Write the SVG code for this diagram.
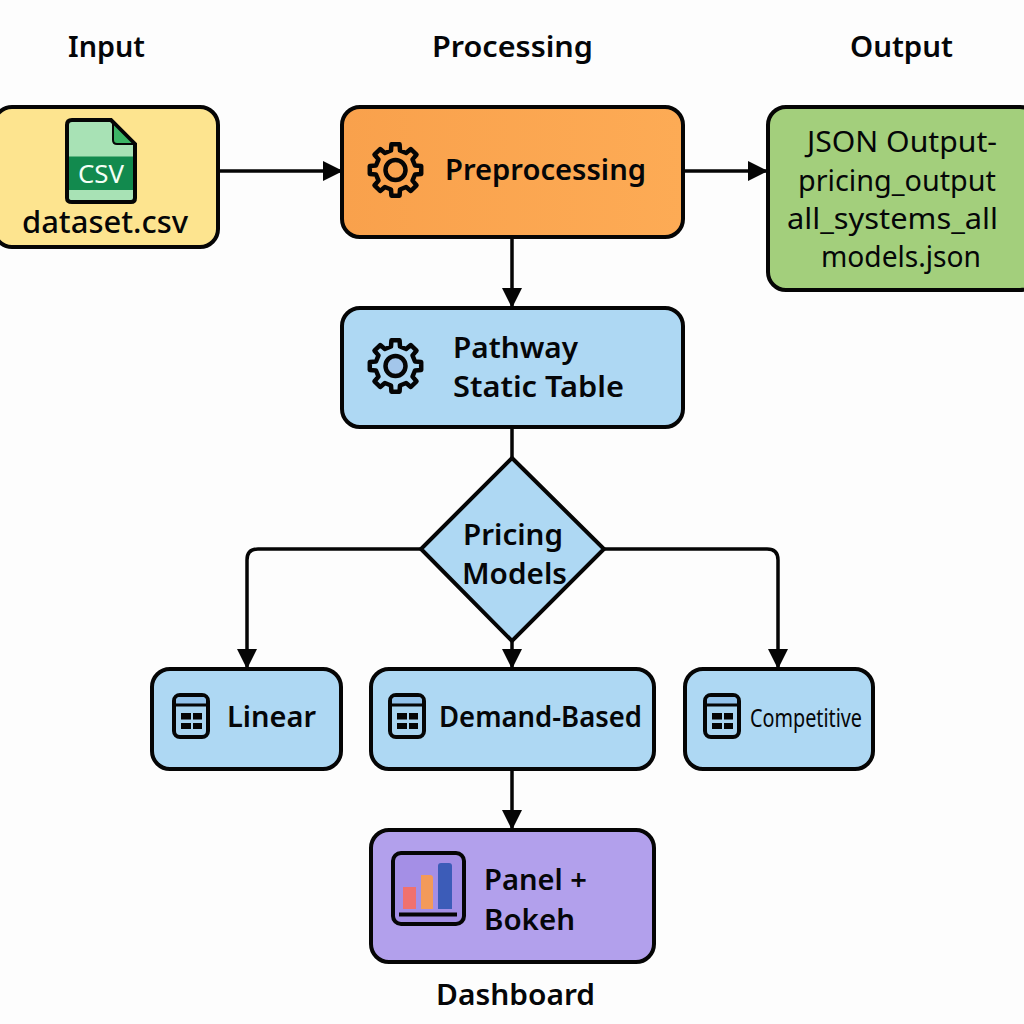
<svg xmlns="http://www.w3.org/2000/svg" width="1024" height="1024" viewBox="0 0 1024 1024">
<style>
text{font-family:"Noto Sans","DejaVu Sans",sans-serif;font-weight:600;fill:#050608;font-size:29px}
.box{stroke:#050505;stroke-width:4}
.blue{fill:#aed8f3}
.line{fill:none;stroke:#050505;stroke-width:3.5;stroke-linejoin:round}
.ico{fill:none;stroke:#050505;stroke-width:4.5;stroke-linejoin:round}
.reg{font-weight:400}
</style>
<defs>
<marker id="arr" markerUnits="userSpaceOnUse" markerWidth="20" markerHeight="20" refX="19" refY="10" orient="auto"><path d="M0 0L20 10L0 20Z" fill="#050505"/></marker>
<linearGradient id="orange" x1="0" y1="0" x2="1" y2="0"><stop offset="0" stop-color="#f9a14c"/><stop offset="1" stop-color="#fdab55"/></linearGradient>
<g id="gear"><polygon class="ico" points="-4.5,-19.5 -4.07,-25.7 4.07,-25.7 4.5,-19.5 10.6,-17 15.3,-21 21,-15.3 17,-10.6 19.5,-4.5 25.7,-4.07 25.7,4.07 19.5,4.5 17,10.6 21,15.3 15.3,21 10.6,17 4.5,19.5 4.07,25.7 -4.07,25.7 -4.5,19.5 -10.6,17 -15.3,21 -21,15.3 -17,10.6 -19.5,4.5 -25.7,4.07 -25.7,-4.07 -19.5,-4.5 -17,-10.6 -21,-15.3 -15.3,-21 -10.6,-17"/><circle class="ico" r="10"/></g>
<g id="table"><rect x="-17" y="-21" width="34" height="42" rx="6" fill="#a9d4f0" stroke="#050505" stroke-width="4"/><path d="M-15 -11V-15Q-15 -19 -11 -19H11Q15 -19 15 -15V-11Z" fill="#93c2ea"/><path d="M-17 -11H17" stroke="#050505" stroke-width="3"/><path d="M-10 -3H0V3.500H-10ZM2 -3H11V3.500H2ZM-10 7H0V13H-10ZM2 7H11V13H2Z" fill="#050505"/></g>
</defs>
<rect width="1024" height="1024" fill="#fdfdfd"/>
<g id="connectors">
<path class="line" marker-end="url(#arr)" d="M218 171H342"/>
<path class="line" marker-end="url(#arr)" d="M683 171H767"/>
<path class="line" marker-end="url(#arr)" d="M512 237V307"/>
<path class="line" d="M512 427V458"/>
<path class="line" marker-end="url(#arr)" d="M421 549H258Q247 549 247 560V668"/>
<path class="line" marker-end="url(#arr)" d="M604 549H767Q778 549 778 560V668"/>
<path class="line" marker-end="url(#arr)" d="M512 641V668"/>
<path class="line" marker-end="url(#arr)" d="M512 769V829"/>
</g>
<g id="header-input"><text x="68" y="57" textLength="77" lengthAdjust="spacingAndGlyphs">Input</text></g>
<g id="header-processing"><text x="432" y="57" textLength="161" lengthAdjust="spacingAndGlyphs">Processing</text></g>
<g id="header-output"><text x="850" y="57" textLength="103" lengthAdjust="spacingAndGlyphs">Output</text></g>
<g id="dataset">
<rect class="box" x="-6" y="107" width="224" height="140" rx="18" fill="#fde48f"/>
<path d="M72 120H111L135 144V198Q135 202 131 202H72Q67 202 67 198V125Q67 120 72 120Z" fill="#a8e2b5" stroke="#050505" stroke-width="4"/>
<path d="M113 123L134 144H117Q113 144 113 140Z" fill="#3cb565" stroke="#050505" stroke-width="2"/>
<rect x="69" y="156.500" width="64" height="33.500" fill="#128a4e"/>
<text x="78" y="183" textLength="46" lengthAdjust="spacingAndGlyphs" style="fill:#f4fff6;font-weight:400;font-size:26px">CSV</text>
<text x="22" y="233" textLength="166" lengthAdjust="spacingAndGlyphs" style="font-weight:500;font-size:30px">dataset.csv</text>
</g>
<g id="preprocessing">
<rect class="box" x="342" y="107" width="341" height="130" rx="18" fill="url(#orange)"/>
<use href="#gear" x="395.500" y="170"/>
<text x="445" y="180" textLength="201" lengthAdjust="spacingAndGlyphs">Preprocessing</text>
</g>
<g id="json-output">
<rect class="box" x="768" y="107" width="270" height="183" rx="18" fill="#a3cf7c"/>
<text class="reg" x="807" y="152" textLength="190" lengthAdjust="spacingAndGlyphs">JSON Output-</text>
<text class="reg" x="798" y="191" textLength="198" lengthAdjust="spacingAndGlyphs">pricing_output</text>
<text class="reg" x="787" y="229" textLength="211" lengthAdjust="spacingAndGlyphs">all_systems_all</text>
<text class="reg" x="821" y="267" textLength="160" lengthAdjust="spacingAndGlyphs">models.json</text>
</g>
<g id="pathway">
<rect class="box blue" x="342" y="308" width="341" height="119" rx="18"/>
<circle cx="395.500" cy="366" r="10" fill="#a3c6ea"/>
<use href="#gear" x="395.500" y="366"/>
<text x="453" y="358" textLength="125" lengthAdjust="spacingAndGlyphs">Pathway</text>
<text x="453" y="397" textLength="171" lengthAdjust="spacingAndGlyphs">Static Table</text>
</g>
<g id="pricing-models">
<polygon class="box blue" points="512,458 604,549 512,641 421,549"/>
<text x="463" y="545" textLength="100" lengthAdjust="spacingAndGlyphs">Pricing</text>
<text x="462" y="584" textLength="105" lengthAdjust="spacingAndGlyphs">Models</text>
</g>
<g id="linear">
<rect class="box blue" x="152" y="669" width="189" height="100" rx="18"/>
<use href="#table" x="191" y="716"/>
<text x="227" y="727" textLength="89" lengthAdjust="spacingAndGlyphs">Linear</text>
</g>
<g id="demand-based">
<rect class="box blue" x="371" y="669" width="283" height="100" rx="18"/>
<use href="#table" x="407" y="716"/>
<text x="439" y="727" textLength="203" lengthAdjust="spacingAndGlyphs">Demand-Based</text>
</g>
<g id="competitive">
<rect class="box blue" x="685" y="669" width="188" height="100" rx="18"/>
<use href="#table" x="722" y="716"/>
<text x="750" y="727" textLength="112" lengthAdjust="spacingAndGlyphs" style="font-weight:400;font-size:25px">Competitive</text>
</g>
<g id="panel-bokeh">
<rect class="box" x="371" y="830" width="283" height="132" rx="18" fill="#b2a0ec"/>
<rect x="393" y="853" width="71" height="71" rx="8" fill="#a48fe6" stroke="#050505" stroke-width="4"/>
<rect x="403" y="887" width="13" height="22" fill="#f0716e"/>
<path d="M421 909V875H430Q433 875 433 878V909Z" fill="#f39a5a"/>
<path d="M438 909V866Q438 863 441 863H449Q452 863 452 866V909Z" fill="#3c5cb8"/>
<path d="M399 914.500H457" stroke="#050505" stroke-width="4"/>
<text x="484" y="890" textLength="103" lengthAdjust="spacingAndGlyphs">Panel +</text>
<text x="484" y="930" textLength="91" lengthAdjust="spacingAndGlyphs">Bokeh</text>
</g>
<g id="dashboard-label"><text x="436" y="1005" textLength="159" lengthAdjust="spacingAndGlyphs">Dashboard</text></g>
</svg>
